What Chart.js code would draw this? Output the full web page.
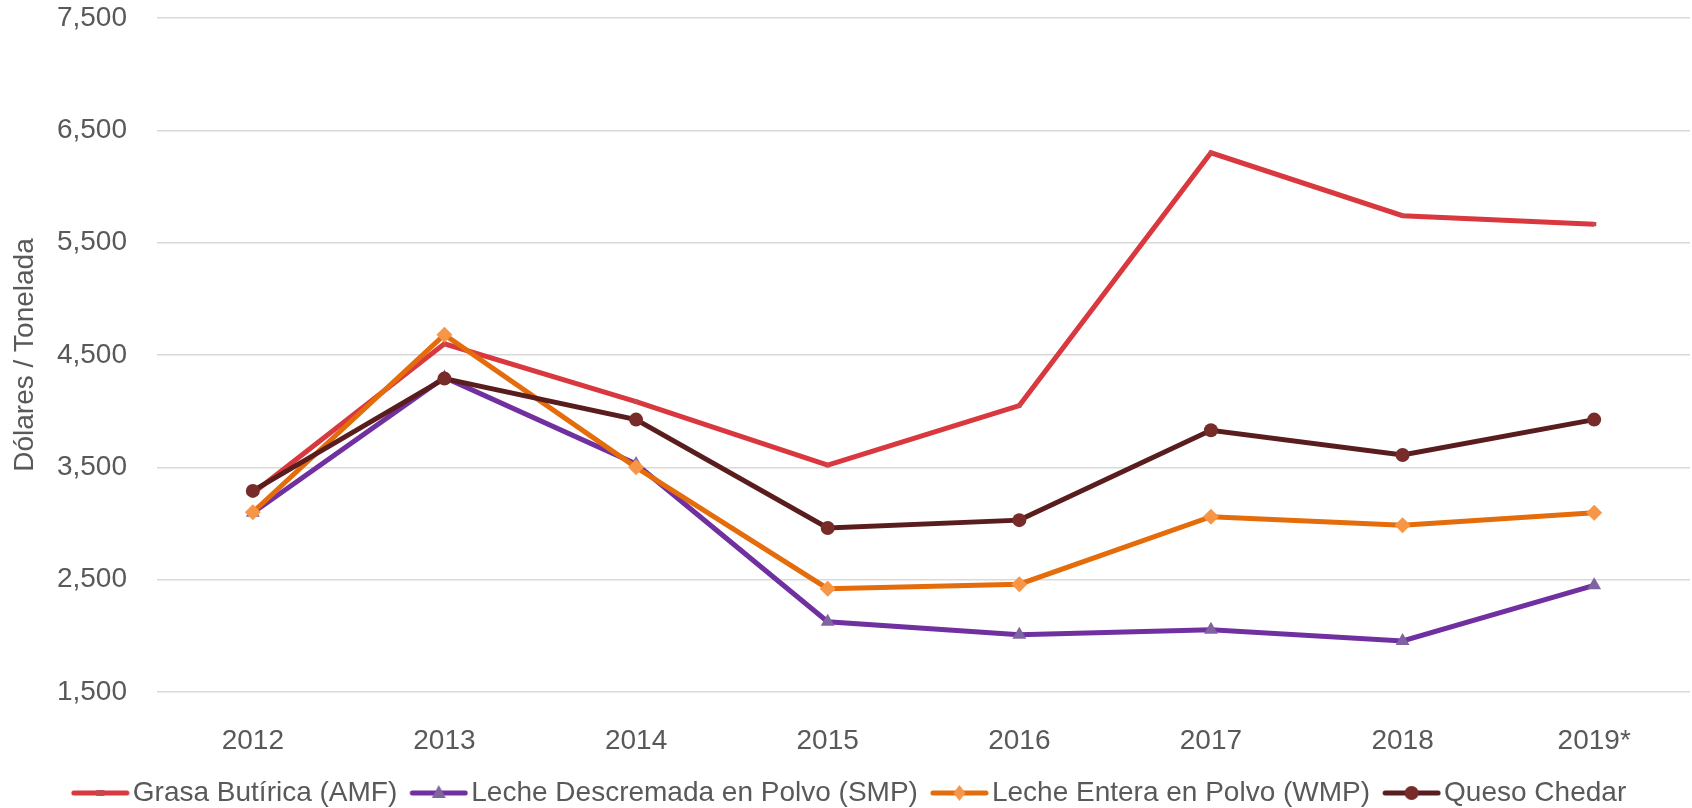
<!DOCTYPE html>
<html>
<head>
<meta charset="utf-8">
<script src="https://cdn.jsdelivr.net/npm/chart.js@4"></script>
<style>
  html, body { margin: 0; padding: 0; background: #fff; }
  #wrap { width: 1692px; height: 808px; }
</style>
</head>
<body>
<div id="wrap"><canvas id="dairyChart" width="1692" height="808"></canvas></div>
<script>
// --- data ---
const years = ['2012', '2013', '2014', '2015', '2016', '2017', '2018', '2019*'];
const amf = [3270, 4600, 4085, 3520, 4050, 6300, 5740, 5665];
const smp = [3095, 4300, 3530, 2125, 2010, 2055, 1955, 2450];
const wmp = [3100, 4680, 3500, 2420, 2460, 3060, 2985, 3095];
const queso = [3290, 4290, 3925, 2960, 3030, 3830, 3610, 3925];
const seriesNames = [
    'Grasa Butírica (AMF)',
    'Leche Descremada en Polvo (SMP)',
    'Leche Entera en Polvo (WMP)',
    'Queso Chedar'
];
const yTicks = [1500, 2500, 3500, 4500, 5500, 6500, 7500];

const FONT = 'Liberation Sans, Arial, sans-serif';
const TEXT = '#595959';

// one style per series: line colour, marker colour, marker shape
const styles = [
    { line: '#D9383E', mark: '#C54A4F', shape: 'rect', r: 3 },
    { line: '#7030A0', mark: '#8064A2', shape: 'triangle', r: 8 },
    { line: '#E46C0A', mark: '#F79646', shape: 'rectRot', r: 8 },
    { line: '#5A1D1D', mark: '#772C2A', shape: 'circle', r: 7 }
];

// legend swatch: short thick line with the marker in the middle
const legendIcon = (st) => {
    const c = document.createElement('canvas');
    c.width = 77; c.height = 20;
    const g = c.getContext('2d');
    const x0 = 21, x1 = 74, cy = 10, cx = (x0 + x1) / 2;
    g.strokeStyle = st.line;
    g.lineWidth = 5;
    g.lineCap = 'round';
    g.beginPath(); g.moveTo(x0, cy); g.lineTo(x1, cy); g.stroke();
    g.fillStyle = st.mark;
    g.beginPath();
    if (st.shape === 'circle') {
        g.arc(cx, cy, 7, 0, Math.PI * 2);
    } else if (st.shape === 'rectRot') {
        g.moveTo(cx, cy - 8); g.lineTo(cx + 6, cy); g.lineTo(cx, cy + 8); g.lineTo(cx - 6, cy);
    } else if (st.shape === 'triangle') {
        g.moveTo(cx, cy - 8); g.lineTo(cx + 7, cy + 5); g.lineTo(cx - 7, cy + 5);
    } else {
        g.rect(cx - 4, cy - 3, 8, 6);
    }
    g.closePath();
    g.fill();
    return c;
};

const seriesData = [amf, smp, wmp, queso];
const datasets = seriesData.map((d, i) => ({
    label: seriesNames[i],
    data: d,
    borderColor: styles[i].line,
    backgroundColor: styles[i].mark,
    borderWidth: 5,
    pointStyle: styles[i].shape,
    pointRadius: styles[i].r,
    pointBackgroundColor: styles[i].mark,
    pointBorderColor: styles[i].mark,
    pointBorderWidth: 0,
    tension: 0,
    fill: false,
    order: 4 - i, // later series drawn on top, as in the original
    _icon: legendIcon(styles[i])
}));

const ctx = document.getElementById('dairyChart').getContext('2d');
const chart = new Chart(ctx, {
    type: 'line',
    data: { labels: years, datasets },
    options: {
        responsive: false,
        animation: false,
        layout: { autoPadding: false, padding: { top: 18, right: 2, left: 0, bottom: -9 } },
        plugins: {
            tooltip: { enabled: false },
            legend: {
                position: 'bottom',
                labels: {
                    usePointStyle: true,
                    pointStyleWidth: 55,
                    padding: 5,
                    color: TEXT,
                    font: { family: FONT, size: 28 },
                    generateLabels: (ch) => ch.data.datasets.map((ds, i) => ({
                        text: ds.label,
                        pointStyle: ds._icon,
                        fillStyle: ds.borderColor,
                        strokeStyle: ds.borderColor,
                        lineWidth: 0,
                        fontColor: TEXT,
                        hidden: false,
                        datasetIndex: i
                    }))
                }
            }
        },
        scales: {
            x: {
                offset: true,
                grid: { display: false, offset: true },
                border: { display: false },
                ticks: { color: TEXT, font: { family: FONT, size: 28 }, padding: 24 },
                afterFit: (s) => {
                    s.height = 82;
                    s.paddingLeft = 0;
                    s.paddingRight = 0;
                }
            },
            y: {
                min: 1500,
                max: 7500,
                afterBuildTicks: (s) => { s.ticks = yTicks.map(v => ({ value: v })); },
                grid: { color: '#D9D9D9', lineWidth: 1.4, drawTicks: false },
                border: { display: false },
                ticks: {
                    color: TEXT,
                    font: { family: FONT, size: 28 },
                    padding: 30,
                    callback: (v) => v.toLocaleString('en-US')
                },
                title: {
                    display: true,
                    text: 'Dólares / Tonelada',
                    color: TEXT,
                    font: { family: FONT, size: 28 },
                    padding: { top: 8, bottom: 0 }
                },
                afterFit: (s) => {
                    s.width = 157;
                    s.paddingTop = 0;
                    s.paddingBottom = 0;
                }
            }
        }
    }
});
</script>
</body>
</html>
